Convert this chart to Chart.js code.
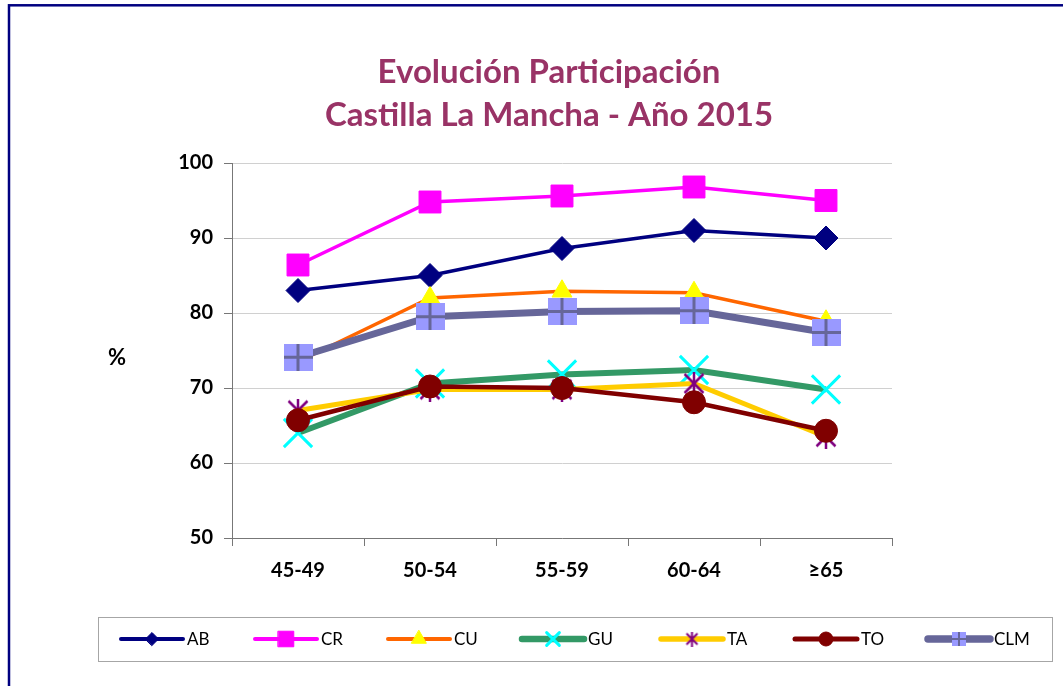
<!DOCTYPE html>
<html>
<head>
<meta charset="utf-8">
<script src="https://cdn.jsdelivr.net/npm/chart.js@4.4.0/dist/chart.umd.min.js"></script>
<style>
  html, body { margin: 0; padding: 0; background: #fff; }
  #wrap { position: relative; width: 1063px; height: 686px; }
</style>
</head>
<body>
<div id="wrap"><canvas id="chart" width="1063" height="686"></canvas></div>
<script>
// data
const categories = ['45-49', '50-54', '55-59', '60-64', '≥65'];
const ab  = [83.0, 85.0, 88.6, 91.0, 90.0];
const cr  = [86.4, 94.8, 95.6, 96.8, 95.0];
const cu  = [73.5, 82.0, 82.9, 82.7, 78.9];
const gu  = [64.0, 70.6, 71.8, 72.4, 69.8];
const ta  = [67.0, 69.8, 69.8, 70.6, 63.5];
const to  = [65.7, 70.2, 70.0, 68.1, 64.3];
const clm = [74.1, 79.5, 80.2, 80.3, 77.4];
const seriesNames = ['AB', 'CR', 'CU', 'GU', 'TA', 'TO', 'CLM'];
const yMin = 50, yMax = 100, yStep = 10;
const titleLines = ['Evolución Participación', 'Castilla La Mancha - Año 2015'];
const yTitle = '%';

// custom markers (Excel-like star and square with plus)
function makeStar(size, color, lw) {
    const c = document.createElement('canvas');
    c.width = size; c.height = size;
    const g = c.getContext('2d');
    g.strokeStyle = color; g.lineWidth = lw; g.lineCap = 'butt';
    const m = lw, s = size - lw;
    g.beginPath();
    g.moveTo(m, m); g.lineTo(s, s);
    g.moveTo(s, m); g.lineTo(m, s);
    g.moveTo(size / 2, 0); g.lineTo(size / 2, size);
    g.stroke();
    return c;
}
function makePlusSquare(w, h, fill, stroke, lw) {
    const c = document.createElement('canvas');
    c.width = w; c.height = h;
    const g = c.getContext('2d');
    g.fillStyle = fill;
    g.fillRect(0, 0, w, h);
    g.strokeStyle = stroke; g.lineWidth = lw;
    g.beginPath();
    g.moveTo(w / 2, 0); g.lineTo(w / 2, h);
    g.moveTo(0, h / 2); g.lineTo(w, h / 2);
    g.stroke();
    return c;
}

const starBig = makeStar(24, '#800080', 2.5);
const starSmall = makeStar(15, '#800080', 2);
const clmBig = makePlusSquare(29, 27, '#9999FF', '#666699', 3);
const clmSmall = makePlusSquare(14, 14, '#9999FF', '#666699', 2);

const styles = [
    { line: '#000080', fill: '#000080', border: '#000080', width: 3.5, point: 'rectRot', r: 12, lr: 6.5, bw: 1 },
    { line: '#FF00FF', fill: '#FF00FF', border: '#FF00FF', width: 3.5, point: 'rect', r: 15.5, lr: 11, bw: 1 },
    { line: '#FF6600', fill: '#FFFF00', border: '#FFFF00', width: 3.5, point: 'triangle', r: 11.5, lr: 8.5, bw: 1 },
    { line: '#339966', fill: '#00FFFF', border: '#00FFFF', width: 6, point: 'crossRot', r: 20, lr: 9, bw: 3 },
    { line: '#FFCC00', fill: '#800080', border: '#800080', width: 5, point: starBig, legendPoint: starSmall, r: 12, lr: 7, bw: 0 },
    { line: '#800000', fill: '#800000', border: '#800000', width: 4.5, point: 'circle', r: 11.5, lr: 7, bw: 1 },
    { line: '#666699', fill: '#9999FF', border: '#9999FF', width: 7, point: clmBig, legendPoint: clmSmall, r: 14, lr: 7, bw: 0 }
];

const values = [ab, cr, cu, gu, ta, to, clm];

const datasets = values.map((v, i) => ({
    label: seriesNames[i],
    data: v,
    borderColor: styles[i].line,
    borderWidth: styles[i].width,
    backgroundColor: styles[i].fill,
    pointStyle: styles[i].point,
    pointRadius: styles[i].r,
    pointBackgroundColor: styles[i].fill,
    pointBorderColor: styles[i].border,
    pointBorderWidth: styles[i].bw,
    tension: 0,
    order: values.length - 1 - i
}));

const frameAndText = {
    id: 'frameAndText',
    afterDraw(chart) {
        const ctx = chart.ctx;
        ctx.save();
        // outer frame
        ctx.strokeStyle = '#000080';
        ctx.lineWidth = 2.5;
        ctx.strokeRect(9, 5.3, 1200, 1000);

        // title
        ctx.fillStyle = '#993366';
        ctx.font = 'bold 33px Lato, "Open Sans", sans-serif';
        ctx.textAlign = 'center';
        ctx.textBaseline = 'middle';
        ctx.fillText(titleLines[0], 549, 72);
        ctx.fillText(titleLines[1], 549, 115);

        // y title
        ctx.fillStyle = '#000';
        ctx.font = 'bold 22px Lato, "Open Sans", sans-serif';
        ctx.fillText(yTitle, 117, 358);

        // legend
        ctx.strokeStyle = '#a6a6a6';
        ctx.lineWidth = 1;
        ctx.strokeRect(98.5, 617.5, 954, 44);
        const starts = [121, 255, 388, 522, 661, 795, 928];
        const ly = 639;
        ctx.font = '17px Lato, "Open Sans", sans-serif';
        ctx.textAlign = 'left';
        styles.forEach((s, i) => {
            const x0 = starts[i];
            ctx.strokeStyle = s.line;
            ctx.lineWidth = s.width + 0.5;
            ctx.lineCap = 'round';
            ctx.beginPath();
            ctx.moveTo(x0, ly);
            ctx.lineTo(x0 + 62, ly);
            ctx.stroke();
            ctx.fillStyle = s.fill;
            ctx.strokeStyle = s.border;
            ctx.lineWidth = s.bw;
            Chart.helpers.drawPoint(ctx, {
                pointStyle: s.legendPoint || s.point,
                radius: s.lr,
                rotation: 0,
                borderWidth: s.bw
            }, x0 + 31, ly);
            ctx.fillStyle = '#000';
            ctx.fillText(seriesNames[i], x0 + 66, ly + 1);
        });
        ctx.restore();
    }
};

new Chart(document.getElementById('chart'), {
    type: 'line',
    data: { labels: categories, datasets: datasets },
    plugins: [frameAndText],
    options: {
        responsive: false,
        animation: false,
        events: [],
        layout: { padding: { left: 172, right: 171, top: 163, bottom: 88 } },
        plugins: {
            legend: { display: false },
            title: { display: false },
            tooltip: { enabled: false }
        },
        scales: {
            x: {
                offset: true,
                afterFit(scale) { scale.height = 60; },
                grid: { display: true, drawOnChartArea: false, offset: true, tickLength: 8, tickColor: '#777' },
                border: { color: '#777', width: 1 },
                ticks: { color: '#000', padding: 13, font: { family: 'Lato, "Open Sans", sans-serif', size: 20, weight: 'bold' } }
            },
            y: {
                min: yMin,
                max: yMax,
                afterFit(scale) { scale.width = 60; },
                grid: { color: '#d0d0d0', tickLength: 8, tickColor: '#777' },
                border: { color: '#777', width: 1 },
                ticks: { stepSize: yStep, color: '#000', padding: 11, font: { family: 'Lato, "Open Sans", sans-serif', size: 20, weight: 'bold' } }
            }
        }
    }
});
</script>
</body>
</html>
